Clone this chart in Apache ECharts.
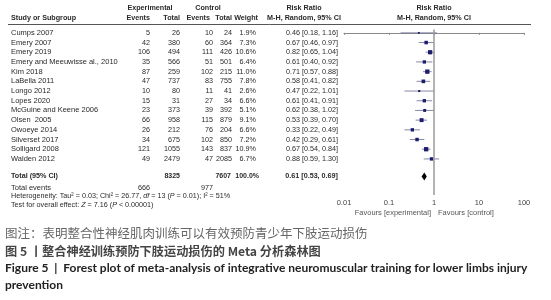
<!DOCTYPE html>
<html><head><meta charset="utf-8">
<script src="https://cdn.jsdelivr.net/npm/echarts@6/dist/echarts.min.js"></script>
<style>html,body{margin:0;padding:0;background:#fff}#c{width:551px;height:300px}</style>
</head><body><div id="c"></div>
<script>
const studies = ["Cumps 2007","Emery 2007","Emery 2019","Emery and Meeuwisse al., 2010","Kim 2018","LaBella 2011","Longo 2012","Lopes 2020","McGuine and Keene 2006","Olsen  2005","Owoeye 2014","Silverset 2017","Solligard 2008","Walden 2012"];
const expEvents = [5,42,106,35,87,47,10,15,23,66,26,34,121,49];
const expTotal = [26,380,494,566,259,737,80,31,373,958,212,675,1055,2479];
const ctrlEvents = [10,60,111,51,102,83,11,27,39,115,76,102,143,47];
const ctrlTotal = [24,364,426,501,215,755,41,34,392,879,204,850,837,2085];
const weights = [1.9,7.3,10.6,6.4,11.0,7.8,2.6,6.6,5.1,9.1,6.6,7.2,10.9,6.7];
const rr = [0.46,0.67,0.82,0.61,0.71,0.58,0.47,0.61,0.62,0.53,0.33,0.42,0.67,0.88];
const lo = [0.18,0.46,0.65,0.40,0.57,0.41,0.22,0.41,0.38,0.39,0.22,0.29,0.54,0.59];
const hi = [1.16,0.97,1.04,0.92,0.88,0.82,1.01,0.91,1.02,0.70,0.49,0.61,0.84,1.30];
const total = {expTotal:8325, ctrlTotal:7607, weight:"100.0%", rr:0.61, lo:0.53, hi:0.69, expEvents:666, ctrlEvents:977};
const xTicks = [0.01,0.1,1,10,100];
const totalRow = 14.8, eventsRow = 15.95;

const chart = echarts.init(document.getElementById('c'), null, {renderer:'canvas'});
const FONT = '"Liberation Sans", Arial, sans-serif';
const TC = '#2a2a2a';
const FS = 7.2;

const studyData = rr.map((v,i)=>[v, i, lo[i], hi[i], weights[i]]);

chart.setOption({
  animation:false,
  grid:{left:344, right:27, top:28, bottom:105},
  xAxis:{type:'log', logBase:10, min:0.01, max:100,
    axisLine:{lineStyle:{color:'#8a8a8a', width:1}},
    axisTick:{show:true, length:2, lineStyle:{color:'#8a8a8a'}},
    axisLabel:{fontSize:7.5, color:'#444', fontFamily:FONT, margin:4,
      formatter:v=>String(v)},
    splitLine:{show:false}, minorTick:{show:false}},
  yAxis:{type:'value', min:-0.5, max:16.72, inverse:true, show:false},
  series:[
    {type:'line', data:[[1,-0.35],[1,16.72]], symbol:'none',
      lineStyle:{color:'#9a9a9a', width:1.5}, silent:true},
    {type:'custom', data:studyData, encode:{x:0,y:1},
      renderItem:(params, api)=>{
        const y = api.coord([1, api.value(1)])[1];
        const x0 = api.coord([api.value(2), 0])[0];
        const x1 = api.coord([api.value(3), 0])[0];
        const xc = api.coord([api.value(0), 0])[0];
        const s = 1.3*Math.sqrt(api.value(4));
        return {type:'group', children:[
          {type:'line', shape:{x1:x0, y1:y, x2:x1, y2:y}, style:{stroke:'#6a6a90', lineWidth:0.8}},
          {type:'rect', shape:{x:xc-s/2, y:y-s/2, width:s, height:s}, style:{fill:'#1c1c6e'}}
        ]};
      }},
    {type:'custom', data:[[total.rr, totalRow, total.lo, total.hi]], encode:{x:0,y:1},
      renderItem:(params, api)=>{
        const y = api.coord([1, api.value(1)])[1];
        const x0 = api.coord([api.value(2), 0])[0];
        const x1 = api.coord([api.value(3), 0])[0];
        const xc = api.coord([api.value(0), 0])[0];
        return {type:'polygon', shape:{points:[[x0,y],[xc,y-4],[x1,y],[xc,y+4]]}, style:{fill:'#000'}};
      }}
  ]
});

const rowY = i => chart.convertToPixel({gridIndex:0}, [1, i])[1];
const g = [];
function t(x, y, text, align, opts){
  opts = opts || {};
  g.push({type:'text', x:x, y:y, silent:true, style:Object.assign({text:text, fill:TC, font:(opts.bold?'bold ':'')+(opts.size||FS)+'px '+(opts.family||FONT), textAlign:align||'left', textVerticalAlign:'middle'}, opts.style||{})});
}
// headers
t(150, 8, 'Experimental', 'center', {bold:true});
t(208, 8, 'Control', 'center', {bold:true});
t(304, 8, 'Risk Ratio', 'center', {bold:true});
t(434, 8, 'Risk Ratio', 'center', {bold:true});
t(11, 18, 'Study or Subgroup', 'left', {bold:true});
t(150, 18, 'Events', 'right', {bold:true});
t(180, 18, 'Total', 'right', {bold:true});
t(210, 18, 'Events', 'right', {bold:true});
t(232, 18, 'Total', 'right', {bold:true});
t(258, 18, 'Weight', 'right', {bold:true});
t(304, 18, 'M-H, Random, 95% CI', 'center', {bold:true});
t(434, 18, 'M-H, Random, 95% CI', 'center', {bold:true});
g.push({type:'line', silent:true, shape:{x1:8, y1:24.5, x2:531, y2:24.5}, style:{stroke:'#555', lineWidth:1}});
const f2 = v => v.toFixed(2);
studies.forEach((s,i)=>{
  const y = rowY(i);
  t(11, y, s, 'left', {size:7.5});
  t(150, y, String(expEvents[i]), 'right');
  t(180, y, String(expTotal[i]), 'right');
  t(213, y, String(ctrlEvents[i]), 'right');
  t(232, y, String(ctrlTotal[i]), 'right');
  t(256, y, weights[i].toFixed(1)+'%', 'right');
  t(338, y, f2(rr[i])+' ['+f2(lo[i])+', '+f2(hi[i])+']', 'right');
});
const ty = rowY(totalRow), ey = rowY(eventsRow);
t(11, ty, 'Total (95% CI)', 'left', {bold:true});
t(180, ty, String(total.expTotal), 'right', {bold:true, size:7});
t(231, ty, String(total.ctrlTotal), 'right', {bold:true, size:7});
t(259, ty, total.weight, 'right', {bold:true, size:7});
t(338, ty, f2(total.rr)+' ['+f2(total.lo)+', '+f2(total.hi)+']', 'right', {bold:true});
t(11, ey, 'Total events', 'left', {size:7.5});
t(150, ey, String(total.expEvents), 'right');
t(213, ey, String(total.ctrlEvents), 'right');
g.push({type:'text', x:11, y:196, silent:true, style:{text:'Heterogeneity: Tau² = 0.03; Chi² = 26.77, {i|df} = 13 ({i|P} = 0.01); I² = 51%', font:'7.2px '+FONT, fill:TC, textVerticalAlign:'middle', rich:{i:{fontStyle:'italic', fontSize:7.2, fontFamily:FONT, fill:TC}}}});
g.push({type:'text', x:11, y:205, silent:true, style:{text:'Test for overall effect: {i|Z} = 7.16 ({i|P} < 0.00001)', font:'7.2px '+FONT, fill:TC, textVerticalAlign:'middle', rich:{i:{fontStyle:'italic', fontSize:7.2, fontFamily:FONT, fill:TC}}}});
t(431, 213, 'Favours [experimental]', 'right', {size:7.5, style:{fill:'#555'}});
t(438, 213, 'Favours [control]', 'left', {size:7.5, style:{fill:'#555'}});
// captions
const CJK = '"Noto Sans CJK SC", sans-serif';
t(5, 233, '图注：表明整合性神经肌肉训练可以有效预防青少年下肢运动损伤', 'left', {size:12.5, family:CJK, style:{fill:'#666'}});
t(5, 251, '图 5 丨整合神经训练预防下肢运动损伤的 Meta 分析森林图', 'left', {size:12.2, family:CJK, bold:true, style:{fill:'#444'}});
t(5, 268, 'Figure 5  |  Forest plot of meta-analysis of integrative neuromuscular training for lower limbs injury', 'left', {size:12, family:'Lato, sans-serif', bold:true, style:{fill:'#222'}});
t(5, 285, 'prevention', 'left', {size:12, family:'Lato, sans-serif', bold:true, style:{fill:'#222'}});
chart.setOption({graphic:{elements:g}});
</script></body></html>
